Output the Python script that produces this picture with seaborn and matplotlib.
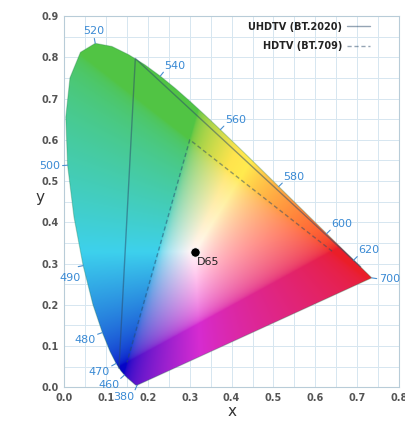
import numpy as np
import pandas as pd
import matplotlib
matplotlib.use("Agg")
import matplotlib.pyplot as plt
import seaborn as sns
from matplotlib.patches import Polygon

# CIE 1931 2 deg spectral locus (chromaticity x, y), 380-700 nm every 5 nm
wavelengths = np.arange(380, 705, 5)
locus_x = [0.1741, 0.1740, 0.1738, 0.1736, 0.1733, 0.1730, 0.1726, 0.1721, 0.1714, 0.1703,
           0.1689, 0.1669, 0.1644, 0.1611, 0.1566, 0.1510, 0.1440, 0.1355, 0.1241, 0.1096,
           0.0913, 0.0687, 0.0454, 0.0235, 0.0082, 0.0039, 0.0139, 0.0389, 0.0743, 0.1142,
           0.1547, 0.1929, 0.2296, 0.2658, 0.3016, 0.3373, 0.3731, 0.4087, 0.4441, 0.4788,
           0.5125, 0.5448, 0.5752, 0.6029, 0.6270, 0.6482, 0.6658, 0.6801, 0.6915, 0.7006,
           0.7079, 0.7140, 0.7190, 0.7230, 0.7260, 0.7283, 0.7300, 0.7311, 0.7320, 0.7327,
           0.7334, 0.7340, 0.7344, 0.7346, 0.7347]
locus_y = [0.0050, 0.0050, 0.0049, 0.0049, 0.0048, 0.0048, 0.0048, 0.0048, 0.0051, 0.0058,
           0.0069, 0.0086, 0.0109, 0.0138, 0.0177, 0.0227, 0.0297, 0.0399, 0.0578, 0.0868,
           0.1327, 0.2007, 0.2950, 0.4127, 0.5384, 0.6548, 0.7502, 0.8120, 0.8338, 0.8262,
           0.8059, 0.7816, 0.7543, 0.7243, 0.6923, 0.6589, 0.6245, 0.5896, 0.5547, 0.5202,
           0.4866, 0.4544, 0.4242, 0.3965, 0.3725, 0.3514, 0.3340, 0.3197, 0.3083, 0.2993,
           0.2920, 0.2859, 0.2809, 0.2770, 0.2740, 0.2717, 0.2700, 0.2689, 0.2680, 0.2673,
           0.2666, 0.2660, 0.2656, 0.2654, 0.2653]

labelled_wl = [380, 460, 470, 480, 490, 500, 520, 540, 560, 580, 600, 620, 700]

# colour gamuts (primaries R, G, B)
bt2020_x = [0.708, 0.170, 0.131, 0.708]
bt2020_y = [0.292, 0.797, 0.046, 0.292]
bt709_x = [0.640, 0.300, 0.150, 0.640]
bt709_y = [0.330, 0.600, 0.060, 0.330]
d65 = (0.3127, 0.3290)

sns.set_theme(style="whitegrid")
plt.rcParams['font.family'] = ['DejaVu Sans']

fig = plt.figure(figsize=(4.06, 4.21), dpi=100)
ax = fig.add_axes([0.158, 0.08, 0.825, 0.882])

# colour fill: xy -> XYZ -> sRGB, clipped, normalised, then muted a bit
gx, gy = np.meshgrid(np.linspace(0, 0.8, 400), np.linspace(0.001, 0.9, 450))
X = gx / gy
Z = (1 - gx - gy) / gy
M = np.array([[3.2406, -1.5372, -0.4986],
              [-0.9689, 1.8758, 0.0415],
              [0.0557, -0.2040, 1.0570]])
xyz = np.stack([X, np.ones_like(X), Z], axis=-1)
rgb = xyz @ M.T
rgb = np.clip(rgb, 0, None)
rgb = rgb / rgb.max(axis=-1, keepdims=True)
rgb = np.where(rgb <= 0.0031308, 12.92 * rgb, 1.055 * rgb ** (1 / 2.4) - 0.055)
tone = np.array([[0.82, 0.22, -0.08],
                 [0.15, 0.80, 0.05],
                 [0.04, 0.15, 0.66]])
rgb = np.clip(np.array([0.10, -0.03, 0.12]) + rgb @ tone.T, 0, 1)

im = ax.imshow(rgb, origin="lower", extent=[0, 0.8, 0.001, 0.9],
               interpolation="bilinear", aspect="auto", zorder=1)
poly = Polygon(np.column_stack([locus_x, locus_y]), closed=True,
               facecolor="none", edgecolor="none", transform=ax.transData)
ax.add_patch(poly)
im.set_clip_path(poly)

# outline of the locus
ax.plot(locus_x + [locus_x[0]], locus_y + [locus_y[0]], color="#1f7a4a",
        lw=0.8, alpha=0.3, zorder=2)

# gamut triangles
tri = pd.DataFrame({"x": bt2020_x + bt709_x, "y": bt2020_y + bt709_y,
                    "gamut": ["UHDTV (BT.2020)"] * 4 + ["HDTV (BT.709)"] * 4})
sns.lineplot(data=tri, x="x", y="y", hue="gamut", style="gamut", sort=False,
             palette=["#2a4a6a", "#2a4a6a"], dashes=[(None, None), (3, 2)],
             lw=1.0, alpha=0.5, ax=ax, zorder=3)

# D65 white point
sns.scatterplot(x=[d65[0]], y=[d65[1]], color="black", s=45, ax=ax, zorder=4,
                legend=False)
ax.text(d65[0] + 0.005, d65[1] - 0.026, "D65", fontsize=8, color="#222222",
        ha="left", va="center", zorder=5)

# wavelength ticks and labels
lx = np.array(locus_x)
ly = np.array(locus_y)
nudge = {490: (3, -4)}
for wl in labelled_wl:
    i = list(wavelengths).index(wl)
    if 0 < i < len(lx) - 1:
        tx, ty = lx[i + 1] - lx[i - 1], ly[i + 1] - ly[i - 1]
        nx, ny = -ty, tx
    else:
        nx, ny = lx[i] - d65[0], ly[i] - d65[1]
    n = np.hypot(nx, ny)
    nx, ny = nx / n, ny / n
    ax.plot([lx[i], lx[i] + 0.012 * nx], [ly[i], ly[i] + 0.012 * ny],
            color="#4a90d0", lw=0.8, zorder=3, clip_on=False)
    ha = "left" if nx > 0.3 else ("right" if nx < -0.3 else "center")
    va = "bottom" if ny > 0.3 else ("top" if ny < -0.15 else "center")
    dx, dy = nudge.get(wl, (0, 0))
    ax.annotate(str(wl), (lx[i], ly[i]), xytext=(5 * nx + dx, 5 * ny + dy),
                textcoords="offset points", fontsize=8, color="#3a8ad4",
                ha=ha, va=va, zorder=5, annotation_clip=False)

ax.set_xlim(0, 0.8)
ax.set_ylim(0, 0.9)
ax.set_xticks(np.arange(0, 0.81, 0.1))
ax.set_yticks(np.arange(0, 0.91, 0.1))
ax.set_xticks(np.arange(0, 0.81, 0.05), minor=True)
ax.set_yticks(np.arange(0, 0.91, 0.05), minor=True)
ax.grid(which="both", color="#d6e6f0", lw=0.7)
ax.set_axisbelow(True)
ax.tick_params(labelsize=7, colors="#555555", length=0, pad=4)
for lab in ax.get_xticklabels() + ax.get_yticklabels():
    lab.set_fontweight("bold")
for s in ax.spines.values():
    s.set_color("#b8ccd8")
    s.set_linewidth(0.8)
ax.set_xlabel("x", fontsize=11, color="#333333")
ax.set_ylabel("y", fontsize=11, color="#333333", rotation=0)
ax.xaxis.set_label_coords(0.5, -0.045)
ax.yaxis.set_label_coords(-0.072, 0.49)

leg = ax.legend(loc="upper right", bbox_to_anchor=(0.925, 0.995), frameon=False,
                markerfirst=False, fontsize=7, handlelength=2.4, handletextpad=0.5,
                borderaxespad=0, labelspacing=0.95)
for t in leg.get_texts():
    t.set_fontweight("bold")
    t.set_color("#222222")
leg.set_zorder(6)

fig.savefig("out.png", dpi=100)
